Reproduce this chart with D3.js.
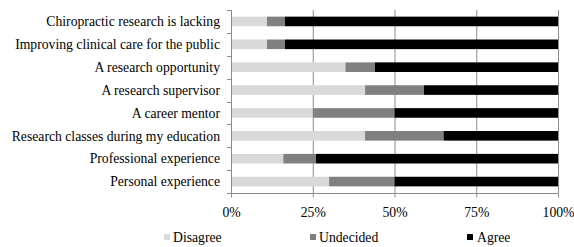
<!DOCTYPE html>
<html>
<head>
<meta charset="utf-8">
<script src="https://cdn.jsdelivr.net/npm/d3@7"></script>
<style>
  body { margin: 0; background: #fff; }
  svg text { font-family: "Liberation Serif", "Times New Roman", serif; fill: #000; }
</style>
</head>
<body>
<svg id="chart" width="574" height="247"></svg>
<script>
// chart data, top row first
var categories = [
  "Chiropractic research is lacking",
  "Improving clinical care for the public",
  "A research opportunity",
  "A research supervisor",
  "A career mentor",
  "Research classes during my education",
  "Professional experience",
  "Personal experience"
];
var seriesNames = ["Disagree", "Undecided", "Agree"];
var disagree  = [11, 11, 35, 41, 25, 41, 16, 30];
var undecided = [5.5, 5.5, 9, 18, 25, 24, 10, 20];
var agree     = [83.5, 83.5, 56, 41, 50, 35, 74, 50];
var tickValues = [0, 25, 50, 75, 100];

var colors = ["#d9d9d9", "#808080", "#000000"];

var svg = d3.select("#chart");
// note: "top" is taken by window.top, so plot edges get a prefix
var plotLeft = 231, plotRight = 558, plotTop = 10, plotBottom = 193;

// build rows for the stack
var rows = categories.map(function(c, i){
  return { cat: c, Disagree: disagree[i], Undecided: undecided[i], Agree: agree[i] };
});
var stacked = d3.stack().keys(seriesNames)(rows);

var x = d3.scaleLinear().domain([0, 100]).range([plotLeft, plotRight]);
var y = d3.scaleBand().domain(categories).range([plotTop, plotBottom]).paddingInner(0.58).paddingOuter(0.29);
var yTicks = d3.scaleBand().domain(categories).range([plotTop, plotBottom]);

// gridlines
svg.append("g").selectAll("line")
  .data(tickValues.slice(1))
  .enter().append("line")
  .attr("x1", function(d){ return x(d) + 0.5; })
  .attr("x2", function(d){ return x(d) + 0.5; })
  .attr("y1", plotTop)
  .attr("y2", plotBottom)
  .attr("stroke", "#8c8c8c")
  .attr("stroke-width", 1);

// bars
svg.append("g").selectAll("g")
  .data(stacked)
  .enter().append("g")
  .attr("fill", function(d, i){ return colors[i]; })
  .selectAll("rect")
  .data(function(d){ return d; })
  .enter().append("rect")
  .attr("x", function(d){ return x(d[0]); })
  .attr("width", function(d){ return x(d[1]) - x(d[0]); })
  .attr("y", function(d){ return y(d.data.cat); })
  .attr("height", y.bandwidth());

// left axis: line with ticks between categories
var yAxisG = svg.append("g").attr("stroke", "#8c8c8c");
yAxisG.append("line")
  .attr("x1", plotLeft + 0.5).attr("x2", plotLeft + 0.5)
  .attr("y1", plotTop).attr("y2", plotBottom + 4);
var bounds = categories.map(function(c){ return yTicks(c); }).concat([plotBottom]);
yAxisG.selectAll("line.t")
  .data(bounds)
  .enter().append("line")
  .attr("class", "t")
  .attr("x1", plotLeft - 4).attr("x2", plotLeft)
  .attr("y1", function(d){ return Math.round(d) + 0.5; })
  .attr("y2", function(d){ return Math.round(d) + 0.5; });

// bottom axis
var xAxis = d3.axisBottom(x).tickValues(tickValues)
  .tickFormat(function(d){ return d + "%"; })
  .tickSize(4).tickPadding(10);
var xg = svg.append("g")
  .attr("transform", "translate(0," + (plotBottom + 0.5) + ")")
  .call(xAxis);
xg.select(".domain").attr("stroke", "#8c8c8c").attr("d", "M" + plotLeft + ",0H" + plotRight);
xg.selectAll(".tick line").attr("stroke", "#8c8c8c");
xg.selectAll(".tick text")
  .attr("font-size", 13.7)
  .attr("font-family", "Liberation Serif, serif")
  .attr("fill", "#000");

// category labels
svg.append("g").selectAll("text")
  .data(categories)
  .enter().append("text")
  .attr("x", 220)
  .attr("y", function(d){ return yTicks(d) + yTicks.bandwidth() / 2; })
  .attr("dy", "0.35em")
  .attr("text-anchor", "end")
  .attr("font-size", 13.7)
  .text(function(d){ return d; });

// legend
var legendX = [164, 310, 467];
var legend = svg.append("g").selectAll("g")
  .data(seriesNames)
  .enter().append("g")
  .attr("transform", function(d, i){ return "translate(" + legendX[i] + ",234)"; });
legend.append("rect")
  .attr("width", 6).attr("height", 6)
  .attr("fill", function(d, i){ return colors[i]; });
legend.append("text")
  .attr("x", function(d, i){ return i == 2 ? 10 : 9; })
  .attr("y", 3)
  .attr("dy", "0.35em")
  .attr("font-size", 13.7)
  .text(function(d){ return d; });
</script>
</body>
</html>
